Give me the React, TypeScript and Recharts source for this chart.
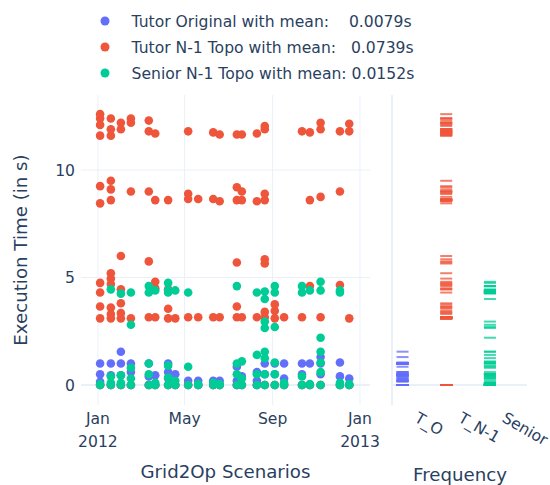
import React from "react";
import {
  ScatterChart,
  Scatter,
  XAxis,
  YAxis,
  CartesianGrid,
  ReferenceLine,
} from "recharts";

// one date per Grid2Op scenario
const scenarioDates = [
  "2012-01-04", "2012-01-19", "2012-02-02", "2012-02-16", "2012-03-12",
  "2012-03-21", "2012-04-08", "2012-04-18", "2012-05-06", "2012-05-20",
  "2012-06-10", "2012-06-19", "2012-07-13", "2012-07-20", "2012-08-10",
  "2012-08-21", "2012-09-04", "2012-09-17", "2012-10-12", "2012-10-23",
  "2012-11-07", "2012-12-04", "2012-12-17",
];

// execution times (s) per scenario
const tutorOriginal: number[][] = [
  [1.0, 0.5, 0.15, 0], [1.0, 0.45, 0], [1.55, 1.0, 0.45, 0], [1.0, 0.6, 0],
  [1.0, 0.4, 0], [0.45, 0], [1.0, 0.6, 0.3, 0], [0.5, 0], [0.2, 0], [0.2, 0],
  [0.2, 0], [0.2, 0], [0.85, 0.2, 0], [0.4, 0], [0.6, 0.2, 0], [1.0, 0.5, 0],
  [1.0, 0.5, 0], [1.0, 0.3, 0], [1.0, 0.5, 0], [1.0, 0], [1.3, 1.0, 0.5, 0],
  [1.05, 0.4, 0], [0.3, 0],
];

const tutorN1: number[][] = [
  [12.6, 12.4, 12.1, 11.6, 9.25, 8.45, 4.75, 4.3, 3.65, 3.1, 0],
  [12.4, 11.9, 11.6, 9.5, 9.1, 8.6, 5.2, 4.95, 4.7, 3.6, 3.3, 3.1, 0],
  [12.2, 11.9, 6.0, 4.45, 3.8, 3.35, 3.1, 0],
  [12.4, 12.2, 9.0, 3.1, 0],
  [12.3, 11.8, 9.0, 5.75, 3.15, 0],
  [11.7, 8.6, 4.8, 4.5, 3.15, 0],
  [8.6, 4.45, 3.55, 3.1, 0],
  [3.1, 0],
  [11.8, 8.9, 8.65, 3.15, 0],
  [8.65, 3.15, 0],
  [11.75, 8.65, 3.15, 0],
  [11.65, 8.55, 3.15, 0],
  [11.65, 9.2, 8.6, 5.7, 3.65, 3.15, 0],
  [11.65, 9.0, 8.6, 3.15, 0],
  [11.7, 8.55, 3.15, 0],
  [12.05, 11.9, 8.9, 8.6, 5.85, 5.65, 3.4, 3.15, 0],
  [3.75, 3.45, 3.1, 0],
  [3.15, 0],
  [11.8, 3.15, 0],
  [11.75, 8.6, 4.6, 0],
  [12.2, 11.9, 8.75, 3.15, 0],
  [11.8, 9.0, 4.65, 0],
  [12.15, 11.8, 3.1, 0],
];

const seniorN1: number[][] = [
  [0.05, 0], [4.45, 0.4, 0.1, 0], [4.25, 0.45, 0.1, 0], [4.3, 2.8, 0.8, 0.3, 0],
  [4.6, 4.3, 1.0, 0.5, 0], [4.4, 0.1, 0], [4.75, 4.4, 4.3, 0.9, 0.35, 0],
  [4.4, 0.2, 0], [4.3, 0.85, 0], [0.05, 0], [0.1, 0], [0.05, 0],
  [4.6, 1.0, 0.5, 0], [1.1, 0.3, 0], [4.3, 1.4, 0.5, 0],
  [4.35, 4.0, 2.95, 2.65, 1.55, 1.25, 0.5, 0], [4.6, 4.3, 2.7, 1.05, 0.5, 0],
  [0.1, 0], [4.6, 4.3, 0.4, 0], [4.4, 0.05, 0],
  [4.8, 4.4, 2.2, 1.55, 1.05, 0.6, 0], [4.4, 4.3, 0.1, 0], [0.05, 0],
];

const seriesNames = [
  "Tutor Original with mean:    0.0079s",
  "Tutor N-1 Topo with mean:   0.0739s",
  "Senior N-1 Topo with mean: 0.0152s",
];
const rugCategories = ["T_O", "T_N-1", "Senior"];
const yTicks = [0, 5, 10];
const xTickDates = ["2012-01-01", "2012-05-01", "2012-09-01", "2013-01-01"];
const xTickLabels = [["Jan", "2012"], ["May"], ["Sep"], ["Jan", "2013"]];

const colors = ["#636efa", "#EF553B", "#00cc96"];
const TEXT = "#2a3f5f";
const GRID = "#EBF0F8";
const FONT = "DejaVu Sans";
const DAY = 86400000;

const toTime = (d: string) => Date.parse(d + "T00:00:00Z");
const xTicks = xTickDates.map(toTime);
const xDomain = [xTicks[0] - 23.7 * DAY, xTicks[0] + 380 * DAY];
const yDomain = [-0.93, 13.49];
const rugDomain = [-0.241, 2.849];

const allSeries = [tutorOriginal, tutorN1, seniorN1];

const scatterData = allSeries.map((values) =>
  values.flatMap((list, i) =>
    list.map((v) => ({ x: toTime(scenarioDates[i]), y: v }))
  )
);
const rugData = allSeries.map((values, k) =>
  values.flat().map((v) => ({ x: k, y: v }))
);

const DateTick = (props: any) => {
  const { x, y, payload } = props;
  const lines = xTickLabels[xTicks.indexOf(payload.value)] || [];
  return (
    <text x={x} y={y} textAnchor="middle" fill={TEXT} fontSize={15.6} fontFamily={FONT}>
      {lines.map((l, i) => (
        <tspan key={i} x={x} dy={i === 0 ? 19 : 23}>
          {l}
        </tspan>
      ))}
    </text>
  );
};

const CatTick = (props: any) => {
  const { x, y, payload } = props;
  return (
    <text
      x={0}
      y={0}
      transform={`translate(${x + 11},${y + 16}) rotate(30)`}
      textAnchor="start"
      fill={TEXT}
      fontSize={15.6}
      fontFamily={FONT}
    >
      {rugCategories[payload.value]}
    </text>
  );
};

const dot = (color: string) => (p: any) =>
  <circle cx={p.cx} cy={p.cy} r={4.3} fill={color} />;

const rugMark = (color: string) => (p: any) => (
  <line
    x1={p.cx - 6}
    x2={p.cx + 6}
    y1={p.cy}
    y2={p.cy}
    stroke={color}
    strokeWidth={2}
    strokeOpacity={0.75}
  />
);

// grid only at the tick values, never at the plot edges
const vGrid = ({ offset }: any) =>
  xTicks.map(
    (t) => offset.left + ((t - xDomain[0]) / (xDomain[1] - xDomain[0])) * offset.width
  );
const hGrid = ({ offset }: any) =>
  yTicks.map(
    (t) => offset.top + ((yDomain[1] - t) / (yDomain[1] - yDomain[0])) * offset.height
  );

const abs: React.CSSProperties = { position: "absolute", left: 0, top: 0 };

export default function App() {
  return (
    <div
      style={{
        position: "absolute",
        left: 0,
        top: 0,
        width: 550,
        height: 485,
        background: "#fff",
        fontFamily: FONT,
      }}
    >
      <ScatterChart
        width={550}
        height={485}
        margin={{ top: 95, right: 180, bottom: 50, left: 21 }}
        style={abs}
      >
        <CartesianGrid
          stroke={GRID}
          strokeWidth={1}
          verticalCoordinatesGenerator={vGrid}
          horizontalCoordinatesGenerator={hGrid}
        />
        <XAxis
          type="number"
          dataKey="x"
          domain={xDomain}
          ticks={xTicks}
          interval={0}
          height={30}
          tickLine={false}
          axisLine={false}
          tickSize={0}
          tickMargin={0}
          tick={<DateTick />}
          allowDataOverflow
        />
        <YAxis
          type="number"
          dataKey="y"
          domain={yDomain}
          ticks={yTicks}
          interval={0}
          width={60}
          tickLine={false}
          axisLine={false}
          tickSize={0}
          tickMargin={6}
          tick={{ fill: TEXT, fontSize: 15.6, fontFamily: FONT }}
          allowDataOverflow
        />
        <ReferenceLine y={0} stroke={GRID} strokeWidth={2} />
        {scatterData.map((d, k) => (
          <Scatter
            key={k}
            data={d}
            fill={colors[k]}
            shape={dot(colors[k])}
            isAnimationActive={false}
          />
        ))}
      </ScatterChart>

      <ScatterChart
        width={550}
        height={485}
        margin={{ top: 95, right: 23, bottom: 50, left: 392 }}
        style={abs}
      >
        <XAxis
          type="number"
          dataKey="x"
          domain={rugDomain}
          ticks={[0, 1, 2]}
          interval={0}
          height={30}
          tickLine={false}
          axisLine={false}
          tickSize={0}
          tickMargin={0}
          tick={<CatTick />}
          allowDataOverflow
        />
        <YAxis type="number" dataKey="y" domain={yDomain} hide allowDataOverflow />
        <ReferenceLine y={0} stroke={GRID} strokeWidth={2} />
        <ReferenceLine x={rugDomain[0]} stroke={GRID} strokeWidth={2} />
        {rugData.map((d, k) => (
          <Scatter
            key={k}
            data={d}
            fill={colors[k]}
            shape={rugMark(colors[k])}
            isAnimationActive={false}
          />
        ))}
      </ScatterChart>

      <svg width={550} height={485} style={{ ...abs, pointerEvents: "none" }}>
        {seriesNames.map((name, i) => (
          <g key={i}>
            <circle cx={105} cy={21 + i * 26} r={4.5} fill={colors[i]} />
            <text
              x={131.5}
              y={27 + i * 26}
              fill={TEXT}
              fontSize={15.6}
              fontFamily={FONT}
              style={{ whiteSpace: "pre" }}
            >
              {name}
            </text>
          </g>
        ))}
        <text
          transform="translate(27,250) rotate(-90)"
          textAnchor="middle"
          fill={TEXT}
          fontSize={18.2}
          fontFamily={FONT}
        >
          Execution Time (in s)
        </text>
        <text x={225.5} y={478} textAnchor="middle" fill={TEXT} fontSize={18.2} fontFamily={FONT}>
          Grid2Op Scenarios
        </text>
        <text x={460} y={481} textAnchor="middle" fill={TEXT} fontSize={18.2} fontFamily={FONT}>
          Frequency
        </text>
      </svg>
    </div>
  );
}
